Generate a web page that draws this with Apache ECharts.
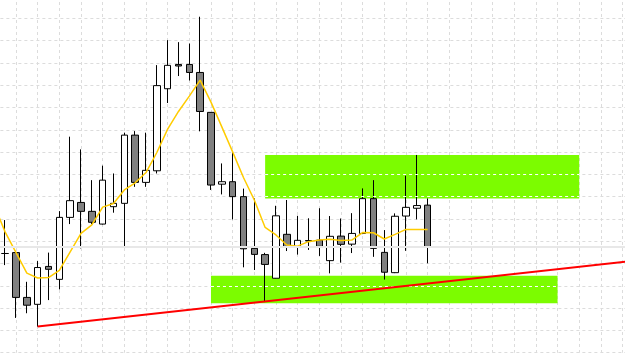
<!DOCTYPE html>
<html>
<head>
<meta charset="utf-8">
<script src="https://cdn.jsdelivr.net/npm/echarts/dist/echarts.min.js"></script>
<style>
html, body { margin: 0; padding: 0; background: #fff; }
#chart { width: 625px; height: 356px; }
</style>
</head>
<body>
<div id="chart"></div>
<script>
// 60 bar slots, the first one is just off the left edge
var categories = Array.from({ length: 60 }, function (_, i) { return 'B' + i; });

// [open, close, low, high]
var candles = [
  ['-', '-', '-', '-'],
  [44.5, 44.5, 39.3, 59.5],
  [44.9, 24.8, 15.6, 45.0],
  [24.8, 21.3, 17.7, 31.8],
  [21.7, 38.2, 11.7, 41.1],
  [38.7, 37.4, 23.6, 44.9],
  [32.9, 60.7, 28.4, 63.5],
  [60.7, 68.2, 57.7, 96.9],
  [67.4, 63.4, 46.8, 91.2],
  [63.4, 58.5, 57.7, 77.4],
  [57.7, 77.4, 57.5, 83.9],
  [65.5, 67.0, 62.8, 80.4],
  [67.0, 97.6, 47.2, 98.7],
  [97.6, 76.4, 74.4, 99.4],
  [76.4, 81.8, 74.4, 98.7],
  [81.6, 119.8, 80.4, 129.0],
  [118.4, 128.9, 112.0, 140.2],
  [129.3, 128.6, 124.1, 139.3],
  [129.3, 125.7, 122.1, 138.7],
  [125.7, 108.2, 99.3, 150.7],
  [107.8, 75.2, 73.0, 107.9],
  [75.6, 76.7, 71.0, 84.9],
  [76.7, 70.0, 59.8, 90.1],
  [70.0, 46.6, 38.3, 73.6],
  [46.8, 44.1, 37.1, 69.2],
  [44.0, 39.6, 22.7, 44.8],
  [33.4, 61.4, 33.3, 65.9],
  [53.1, 47.3, 45.6, 68.5],
  [47.5, 50.4, 44.0, 61.4],
  [50.3, 50.1, 46.1, 60.3],
  [50.5, 47.7, 43.4, 64.8],
  [41.3, 52.2, 35.6, 61.3],
  [52.3, 48.6, 40.4, 60.2],
  [48.7, 53.5, 44.7, 62.6],
  [53.5, 69.1, 53.2, 73.7],
  [69.1, 46.8, 43.0, 77.4],
  [45.0, 36.1, 32.8, 55.0],
  [35.9, 61.2, 35.7, 62.5],
  [61.3, 65.2, 45.7, 79.4],
  [64.8, 66.0, 59.8, 88.7],
  [66.2, 47.5, 40.1, 69.2]
];

// moving average
var maValues = [
  65.8, 54.1, 44.9, 35.7, 33.5, 33.7, 36.9, 45.2, 53.5, 57.3,
  65.3, 66.9, 73.0, 76.2, 80.8, 89.8, 100.3, 108.2, 115.1, 122.3,
  112.4, 101.3, 90.1, 78.6, 68.5, 56.2, 52.8, 48.3, 47.8, 49.8,
  50.5, 50.9, 50.3, 50.5, 53.9, 53.8, 51.0, 53.1, 55.3, 55.3,
  55.3
];

// green zones: [startBar, top, endBar, bottom]
var zones = [
  [25, 88.7, 54, 69.2],
  [20, 34.5, 52, 22.2]
];
// grid levels that show white through the zones
var zoneLevels = [
  [25, 54, 80],
  [25, 54, 70],
  [20, 52, 30]
];
// trend line through the two lows
var trendLine = [[4, 11.7], [59, 41.2]];
var priceLevel = 47.5;

var myChart = echarts.init(document.getElementById('chart'));

var zoneData = zones.map(function (z) {
  return [{ coord: [z[0], z[1]] }, { coord: [z[2], z[3]] }];
});
var levelData = zoneLevels.map(function (l) {
  return [{ coord: [l[0], l[2]] }, { coord: [l[1], l[2]] }];
});

myChart.setOption({
  animation: false,
  grid: {
    left: -5.63,
    top: -4,
    width: 639,
    height: 356.7,
    outerBoundsMode: 'none'
  },
  xAxis: {
    type: 'category',
    boundaryGap: false,
    data: categories,
    axisLine: { show: false },
    axisTick: { show: false },
    axisLabel: { show: false },
    splitLine: {
      show: true,
      interval: 1,
      lineStyle: { color: '#dcdcdc', type: [3, 3], width: 1 }
    }
  },
  yAxis: {
    type: 'value',
    min: 0,
    max: 160,
    interval: 10,
    axisLine: { show: false },
    axisTick: { show: false },
    axisLabel: { show: false },
    splitLine: {
      show: true,
      lineStyle: { color: '#dcdcdc', type: [3, 3], width: 1 }
    }
  },
  series: [
    {
      name: 'level',
      type: 'line',
      data: [],
      z: 1,
      silent: true,
      markLine: {
        silent: true,
        symbol: 'none',
        label: { show: false },
        lineStyle: { color: '#e8e8e8', width: 2, type: 'solid' },
        data: [{ yAxis: priceLevel }]
      }
    },
    {
      name: 'zones',
      type: 'line',
      data: [],
      z: 2,
      silent: true,
      markArea: {
        silent: true,
        itemStyle: { color: '#7CFC00', opacity: 1 },
        data: zoneData
      },
      markLine: {
        silent: true,
        symbol: 'none',
        label: { show: false },
        lineStyle: { color: '#ffffff', width: 1, type: [3, 3] },
        data: levelData
      }
    },
    {
      name: 'price',
      type: 'candlestick',
      data: candles,
      barWidth: 7,
      z: 3,
      itemStyle: {
        color: '#ffffff',
        color0: '#808080',
        borderColor: '#000000',
        borderColor0: '#000000',
        borderWidth: 1
      }
    },
    {
      name: 'MA',
      type: 'line',
      data: maValues,
      symbol: 'none',
      smooth: false,
      z: 4,
      lineStyle: { color: '#FFCC00', width: 1.5 }
    },
    {
      name: 'trend',
      type: 'line',
      data: [],
      z: 5,
      markLine: {
        silent: true,
        symbol: 'none',
        label: { show: false },
        lineStyle: { color: '#ff0000', width: 2, type: 'solid' },
        data: [[{ coord: trendLine[0] }, { coord: trendLine[1] }]]
      }
    }
  ]
});
</script>
</body>
</html>
